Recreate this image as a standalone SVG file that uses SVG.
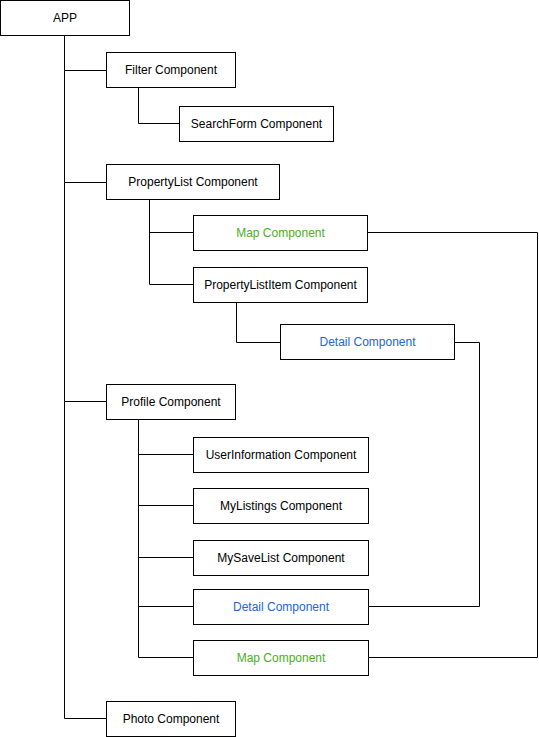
<svg xmlns="http://www.w3.org/2000/svg" width="539" height="737" viewBox="0 0 539 737">
<style>
.box{fill:#ffffff;stroke:#000000;stroke-width:1}
.lbl{font-family:"Liberation Sans",Arial,sans-serif;font-size:12px;fill:#000000;text-anchor:middle;dominant-baseline:central}
.green{fill:#4CAF1C}
.blue{fill:#2166D8}
.ln{fill:none;stroke:#000000;stroke-width:1}
</style>
<rect x="0" y="0" width="539" height="737" fill="#ffffff"/>
<g id="connectors">
<path class="ln" d="M64.5 35.5 V718.5 H106.5"/>
<path class="ln" d="M64.5 70.5 H106.5"/>
<path class="ln" d="M64.5 182.5 H106.5"/>
<path class="ln" d="M64.5 401.5 H106.5"/>
<path class="ln" d="M138.5 87.5 V123.5 H179.5"/>
<path class="ln" d="M149.5 199.5 V284.5 H193.5"/>
<path class="ln" d="M149.5 232.5 H193.5"/>
<path class="ln" d="M236.5 302.5 V342.5 H280.5"/>
<path class="ln" d="M138.5 419.5 V657.5 H193.5"/>
<path class="ln" d="M138.5 454.5 H193.5"/>
<path class="ln" d="M138.5 505.5 H193.5"/>
<path class="ln" d="M138.5 557.5 H193.5"/>
<path class="ln" d="M138.5 606.5 H193.5"/>
<path class="ln" d="M367.5 232.5 H537.5 V657.5 H368.5"/>
<path class="ln" d="M454.5 342.5 H479.5 V606.5 H368.5"/>
</g>
<g id="app"><rect class="box" x="0.5" y="0.5" width="129" height="35"/><text class="lbl" x="65" y="18">APP</text></g>
<g id="filter"><rect class="box" x="106.5" y="52.5" width="129" height="35"/><text class="lbl" x="171" y="70">Filter Component</text></g>
<g id="searchform"><rect class="box" x="179.5" y="106.5" width="154" height="35"/><text class="lbl" x="256.5" y="124">SearchForm Component</text></g>
<g id="propertylist"><rect class="box" x="106.5" y="164.5" width="173" height="35"/><text class="lbl" x="193" y="182">PropertyList Component</text></g>
<g id="map1"><rect class="box" x="193.5" y="215.5" width="174" height="35"/><text class="lbl green" x="280.5" y="233">Map Component</text></g>
<g id="propertylistitem"><rect class="box" x="193.5" y="267.5" width="174" height="35"/><text class="lbl" x="280.5" y="285">PropertyListItem Component</text></g>
<g id="detail1"><rect class="box" x="280.5" y="324.5" width="174" height="35"/><text class="lbl blue" x="367.5" y="342">Detail Component</text></g>
<g id="profile"><rect class="box" x="106.5" y="384.5" width="129" height="35"/><text class="lbl" x="171" y="402">Profile Component</text></g>
<g id="userinformation"><rect class="box" x="193.5" y="437.5" width="175" height="35"/><text class="lbl" x="281" y="455">UserInformation Component</text></g>
<g id="mylistings"><rect class="box" x="193.5" y="488.5" width="175" height="35"/><text class="lbl" x="281" y="506">MyListings Component</text></g>
<g id="mysavelist"><rect class="box" x="193.5" y="540.5" width="175" height="35"/><text class="lbl" x="281" y="558">MySaveList Component</text></g>
<g id="detail2"><rect class="box" x="193.5" y="589.5" width="175" height="35"/><text class="lbl blue" x="281" y="607">Detail Component</text></g>
<g id="map2"><rect class="box" x="193.5" y="640.5" width="175" height="35"/><text class="lbl green" x="281" y="658">Map Component</text></g>
<g id="photo"><rect class="box" x="106.5" y="701.5" width="129" height="35"/><text class="lbl" x="171" y="719">Photo Component</text></g>
</svg>
